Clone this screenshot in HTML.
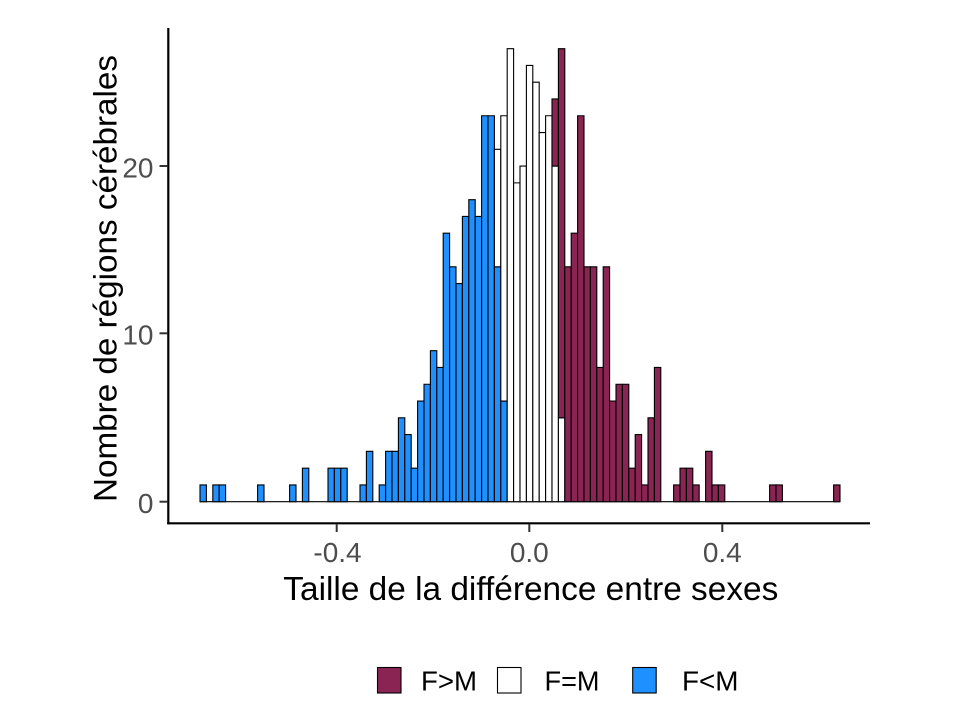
<!DOCTYPE html>
<html>
<head>
<meta charset="utf-8">
<style>
  html,body{margin:0;padding:0;background:#fff;}
  svg{display:block;}
  text{font-family:"Liberation Sans",sans-serif;}
</style>
</head>
<body>
<svg width="960" height="720" viewBox="0 0 960 720" xmlns="http://www.w3.org/2000/svg">
  <rect x="0" y="0" width="960" height="720" fill="#fff"/>

  <!-- baseline for zero bins -->
  <line x1="200" y1="501.7" x2="840" y2="501.7" stroke="#000" stroke-width="1.1"/>

  <g transform="translate(200,501.7) scale(6.4,-16.78)" stroke="#000" stroke-width="1.1">
    <!-- F<M blue -->
    <g fill="#1E90FF">
      <rect vector-effect="non-scaling-stroke" x="0" y="0" width="1" height="1"/>
      <rect vector-effect="non-scaling-stroke" x="2" y="0" width="1" height="1"/>
      <rect vector-effect="non-scaling-stroke" x="3" y="0" width="1" height="1"/>
      <rect vector-effect="non-scaling-stroke" x="9" y="0" width="1" height="1"/>
      <rect vector-effect="non-scaling-stroke" x="14" y="0" width="1" height="1"/>
      <rect vector-effect="non-scaling-stroke" x="16" y="0" width="1" height="2"/>
      <rect vector-effect="non-scaling-stroke" x="20" y="0" width="1" height="2"/>
      <rect vector-effect="non-scaling-stroke" x="21" y="0" width="1" height="2"/>
      <rect vector-effect="non-scaling-stroke" x="22" y="0" width="1" height="2"/>
      <rect vector-effect="non-scaling-stroke" x="25" y="0" width="1" height="1"/>
      <rect vector-effect="non-scaling-stroke" x="26" y="0" width="1" height="3"/>
      <rect vector-effect="non-scaling-stroke" x="28" y="0" width="1" height="1"/>
      <rect vector-effect="non-scaling-stroke" x="29" y="0" width="1" height="3"/>
      <rect vector-effect="non-scaling-stroke" x="30" y="0" width="1" height="3"/>
      <rect vector-effect="non-scaling-stroke" x="31" y="0" width="1" height="5"/>
      <rect vector-effect="non-scaling-stroke" x="32" y="0" width="1" height="4"/>
      <rect vector-effect="non-scaling-stroke" x="33" y="0" width="1" height="2"/>
      <rect vector-effect="non-scaling-stroke" x="34" y="0" width="1" height="6"/>
      <rect vector-effect="non-scaling-stroke" x="35" y="0" width="1" height="7"/>
      <rect vector-effect="non-scaling-stroke" x="36" y="0" width="1" height="9"/>
      <rect vector-effect="non-scaling-stroke" x="37" y="0" width="1" height="8"/>
      <rect vector-effect="non-scaling-stroke" x="38" y="0" width="1" height="16"/>
      <rect vector-effect="non-scaling-stroke" x="39" y="0" width="1" height="14"/>
      <rect vector-effect="non-scaling-stroke" x="40" y="0" width="1" height="13"/>
      <rect vector-effect="non-scaling-stroke" x="41" y="0" width="1" height="17"/>
      <rect vector-effect="non-scaling-stroke" x="42" y="0" width="1" height="18"/>
      <rect vector-effect="non-scaling-stroke" x="43" y="0" width="1" height="17"/>
      <rect vector-effect="non-scaling-stroke" x="44" y="0" width="1" height="23"/>
      <rect vector-effect="non-scaling-stroke" x="45" y="0" width="1" height="23"/>
      <rect vector-effect="non-scaling-stroke" x="46" y="0" width="1" height="14"/>
      <rect vector-effect="non-scaling-stroke" x="47" y="0" width="1" height="6"/>
    </g>
    <!-- F=M white -->
    <g fill="#FFFFFF">
      <rect vector-effect="non-scaling-stroke" x="46" y="14" width="1" height="7"/>
      <rect vector-effect="non-scaling-stroke" x="47" y="6" width="1" height="17"/>
      <rect vector-effect="non-scaling-stroke" x="48" y="0" width="1" height="27"/>
      <rect vector-effect="non-scaling-stroke" x="49" y="0" width="1" height="19"/>
      <rect vector-effect="non-scaling-stroke" x="50" y="0" width="1" height="20"/>
      <rect vector-effect="non-scaling-stroke" x="51" y="0" width="1" height="26"/>
      <rect vector-effect="non-scaling-stroke" x="52" y="0" width="1" height="25"/>
      <rect vector-effect="non-scaling-stroke" x="53" y="0" width="1" height="22"/>
      <rect vector-effect="non-scaling-stroke" x="54" y="0" width="1" height="23"/>
      <rect vector-effect="non-scaling-stroke" x="55" y="0" width="1" height="20"/>
      <rect vector-effect="non-scaling-stroke" x="56" y="0" width="1" height="5"/>
    </g>
    <!-- F>M maroon -->
    <g fill="#8A2453">
      <rect vector-effect="non-scaling-stroke" x="55" y="20" width="1" height="4"/>
      <rect vector-effect="non-scaling-stroke" x="56" y="5" width="1" height="22"/>
      <rect vector-effect="non-scaling-stroke" x="57" y="0" width="1" height="14"/>
      <rect vector-effect="non-scaling-stroke" x="58" y="0" width="1" height="16"/>
      <rect vector-effect="non-scaling-stroke" x="59" y="0" width="1" height="23"/>
      <rect vector-effect="non-scaling-stroke" x="60" y="0" width="1" height="14"/>
      <rect vector-effect="non-scaling-stroke" x="61" y="0" width="1" height="14"/>
      <rect vector-effect="non-scaling-stroke" x="62" y="0" width="1" height="8"/>
      <rect vector-effect="non-scaling-stroke" x="63" y="0" width="1" height="14"/>
      <rect vector-effect="non-scaling-stroke" x="64" y="0" width="1" height="6"/>
      <rect vector-effect="non-scaling-stroke" x="65" y="0" width="1" height="7"/>
      <rect vector-effect="non-scaling-stroke" x="66" y="0" width="1" height="7"/>
      <rect vector-effect="non-scaling-stroke" x="67" y="0" width="1" height="2"/>
      <rect vector-effect="non-scaling-stroke" x="68" y="0" width="1" height="4"/>
      <rect vector-effect="non-scaling-stroke" x="69" y="0" width="1" height="1"/>
      <rect vector-effect="non-scaling-stroke" x="70" y="0" width="1" height="5"/>
      <rect vector-effect="non-scaling-stroke" x="71" y="0" width="1" height="8"/>
      <rect vector-effect="non-scaling-stroke" x="74" y="0" width="1" height="1"/>
      <rect vector-effect="non-scaling-stroke" x="75" y="0" width="1" height="2"/>
      <rect vector-effect="non-scaling-stroke" x="76" y="0" width="1" height="2"/>
      <rect vector-effect="non-scaling-stroke" x="77" y="0" width="1" height="1"/>
      <rect vector-effect="non-scaling-stroke" x="79" y="0" width="1" height="3"/>
      <rect vector-effect="non-scaling-stroke" x="80" y="0" width="1" height="1"/>
      <rect vector-effect="non-scaling-stroke" x="81" y="0" width="1" height="1"/>
      <rect vector-effect="non-scaling-stroke" x="89" y="0" width="1" height="1"/>
      <rect vector-effect="non-scaling-stroke" x="90" y="0" width="1" height="1"/>
      <rect vector-effect="non-scaling-stroke" x="99" y="0" width="1" height="1"/>
    </g>
  </g>

  <!-- axes -->
  <line x1="168.3" y1="28" x2="168.3" y2="524.3" stroke="#000" stroke-width="2.2"/>
  <line x1="167.2" y1="523.3" x2="870" y2="523.3" stroke="#000" stroke-width="2.2"/>

  <!-- y ticks -->
  <g stroke="#333" stroke-width="2">
    <line x1="159.5" y1="166" x2="167.3" y2="166"/>
    <line x1="159.5" y1="333.3" x2="167.3" y2="333.3"/>
    <line x1="159.5" y1="501.7" x2="167.3" y2="501.7"/>
    <line x1="336.7" y1="524.3" x2="336.7" y2="532"/>
    <line x1="529.3" y1="524.3" x2="529.3" y2="532"/>
    <line x1="722.3" y1="524.3" x2="722.3" y2="532"/>
  </g>

  <!-- tick labels -->
  <g fill="#4D4D4D" font-size="28">
    <text x="153.5" y="177.3" text-anchor="end">20</text>
    <text x="153.5" y="344.6" text-anchor="end">10</text>
    <text x="153.5" y="513" text-anchor="end">0</text>
    <text x="337.5" y="562" text-anchor="middle">-0.4</text>
    <text x="529.3" y="562" text-anchor="middle">0.0</text>
    <text x="722.3" y="562" text-anchor="middle">0.4</text>
  </g>

  <!-- axis titles -->
  <text x="283.3" y="600" font-size="33" fill="#000" textLength="495" lengthAdjust="spacingAndGlyphs">Taille de la différence entre sexes</text>
  <text transform="translate(116.7,502) rotate(-90)" x="0" y="0" font-size="32" fill="#000" textLength="447" lengthAdjust="spacingAndGlyphs">Nombre de régions cérébrales</text>

  <!-- legend -->
  <rect x="377.5" y="667.5" width="23.5" height="25.5" fill="#8A2453" stroke="#000" stroke-width="1.1"/>
  <rect x="497.5" y="667.5" width="23.5" height="25.5" fill="#FFFFFF" stroke="#000" stroke-width="1.1"/>
  <rect x="632.7" y="667.5" width="23.5" height="25.5" fill="#1E90FF" stroke="#000" stroke-width="1.1"/>
  <g font-size="28" fill="#000">
    <text x="421" y="690.7" textLength="56" lengthAdjust="spacingAndGlyphs">F&gt;M</text>
    <text x="544.5" y="690.7" textLength="55" lengthAdjust="spacingAndGlyphs">F=M</text>
    <text x="682" y="690.7" textLength="56.5" lengthAdjust="spacingAndGlyphs">F&lt;M</text>
  </g>
</svg>
</body>
</html>
